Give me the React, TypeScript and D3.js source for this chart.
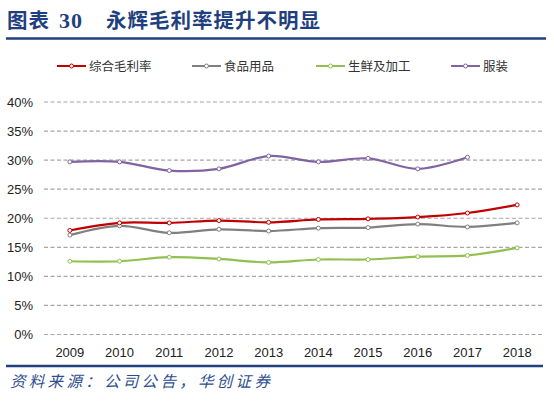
import React, { useEffect, useRef } from 'react';
import * as d3 from 'd3';

const years = ['2009', '2010', '2011', '2012', '2013', '2014', '2015', '2016', '2017', '2018'];
const yTicks = [0, 5, 10, 15, 20, 25, 30, 35, 40];

// gross margin, %
const overall = [17.9, 19.2, 19.2, 19.6, 19.3, 19.8, 19.9, 20.2, 20.9, 22.3];
const food = [17.1, 18.7, 17.5, 18.1, 17.8, 18.3, 18.4, 19.0, 18.5, 19.2];
const fresh = [12.6, 12.6, 13.3, 13.0, 12.4, 12.9, 12.9, 13.4, 13.6, 14.9];
const apparel = [29.7, 29.7, 28.2, 28.5, 30.7, 29.7, 30.3, 28.5, 30.5];

const seriesNames = ['综合毛利率', '食品用品', '生鲜及加工', '服装'];
const seriesColors = ['#C00000', '#808080', '#92C050', '#8064A2'];

const W = 554;
const H = 402;
const navy = '#1F3F7F';

const App = () => {
  const svgRef = useRef(null);

  useEffect(() => {
    const svg = d3.select(svgRef.current);
    svg.selectAll('*').remove();

    const x = d3.scaleBand().domain(years).range([45, 542]);
    const y = d3.scaleLinear().domain([0, 40]).range([334.5, 102]);
    const cx = (i: number) => (x(years[i]) as number) + x.bandwidth() / 2;

    // title
    const title = svg.append('text')
      .attr('x', 7).attr('y', 28)
      .attr('fill', navy)
      .attr('font-weight', 'bold')
      .attr('font-family', '"Noto Sans CJK SC", sans-serif')
      .attr('font-size', 20.5)
      .attr('letter-spacing', 1);
    title.append('tspan').text('图表');
    title.append('tspan').attr('x', 59).attr('font-family', '"Liberation Serif", serif').attr('font-size', 22).text('30');
    title.append('tspan').attr('x', 106).text('永辉毛利率提升不明显');

    svg.append('line')
      .attr('x1', 6).attr('x2', 546).attr('y1', 38.5).attr('y2', 38.5)
      .attr('stroke', navy).attr('stroke-width', 2.5);

    // legend
    const legendX = [57, 192, 316, 451];
    seriesNames.forEach((name, i) => {
      const g = svg.append('g').attr('transform', `translate(${legendX[i]},66)`);
      g.append('line').attr('x1', 0).attr('x2', 29).attr('y1', 0).attr('y2', 0)
        .attr('stroke', seriesColors[i]).attr('stroke-width', 2);
      g.append('circle').attr('cx', 14.5).attr('cy', 0).attr('r', 2)
        .attr('fill', '#fff').attr('stroke', seriesColors[i]).attr('stroke-width', 1);
      g.append('text').attr('x', 32).attr('y', 4.5)
        .attr('font-family', '"Noto Sans CJK SC", sans-serif')
        .attr('font-size', 12.5).attr('fill', '#333')
        .text(name);
    });

    // grid + y labels
    yTicks.forEach(t => {
      svg.append('line')
        .attr('x1', 44).attr('x2', 542).attr('y1', y(t)).attr('y2', y(t))
        .attr('stroke', '#A6A6A6').attr('stroke-width', 1.2)
        .attr('stroke-dasharray', '4,2.5');
      svg.append('text')
        .attr('x', 33).attr('y', y(t) + 4.5)
        .attr('text-anchor', 'end')
        .attr('font-family', '"Liberation Sans", sans-serif')
        .attr('font-size', 13).attr('fill', '#222')
        .text(`${t}%`);
    });

    // x labels
    years.forEach((yr, i) => {
      svg.append('text')
        .attr('x', cx(i)).attr('y', 356.5)
        .attr('text-anchor', 'middle')
        .attr('font-family', '"Liberation Sans", sans-serif')
        .attr('font-size', 13).attr('fill', '#222')
        .text(yr);
    });

    const line = d3.line<number>()
      .x((_, i) => cx(i))
      .y(d => y(d))
      .curve(d3.curveCatmullRom.alpha(0.5));

    const allSeries = [overall, food, fresh, apparel];
    // draw in order so red sits above gray
    [3, 2, 1, 0].forEach(k => {
      const vals = allSeries[k];
      svg.append('path')
        .attr('d', line(vals))
        .attr('fill', 'none')
        .attr('stroke', seriesColors[k])
        .attr('stroke-width', 2.2);
      svg.selectAll(null)
        .data(vals)
        .enter()
        .append('circle')
        .attr('cx', (_, i) => cx(i))
        .attr('cy', d => y(d))
        .attr('r', 2)
        .attr('fill', '#fff')
        .attr('stroke', seriesColors[k])
        .attr('stroke-width', 1);
    });

    // bottom rule + source
    svg.append('line')
      .attr('x1', 6).attr('x2', 543).attr('y1', 366).attr('y2', 366)
      .attr('stroke', navy).attr('stroke-width', 2.5);

    svg.append('text')
      .attr('x', 10).attr('y', 387)
      .attr('font-family', '"Noto Sans CJK SC", sans-serif')
      .attr('font-size', 15.5)
      .attr('font-style', 'italic')
      .attr('letter-spacing', 3.3)
      .attr('fill', '#2E4F8F')
      .text('资料来源：公司公告，华创证券');
  }, []);

  return (
    <svg
      ref={svgRef}
      width={W}
      height={H}
      viewBox={`0 0 ${W} ${H}`}
      style={{ position: 'absolute', left: 0, top: 0, background: '#fff' }}
    />
  );
};

export default App;
